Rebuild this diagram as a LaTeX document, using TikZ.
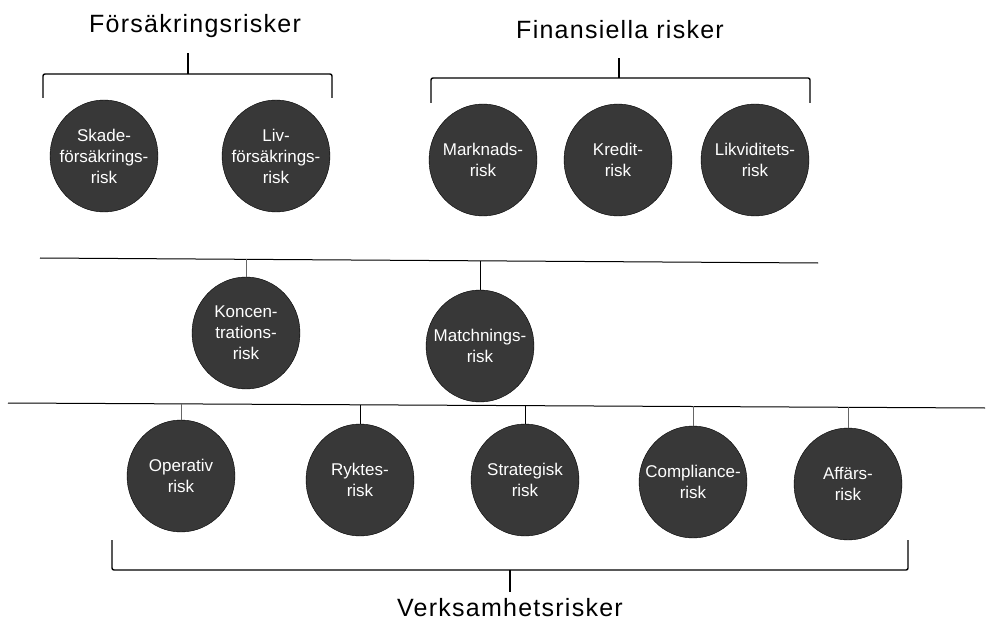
\documentclass[tikz,border=0pt]{standalone}
\usepackage{fontspec}
\setmainfont{Liberation Sans}
\usetikzlibrary{shapes.geometric}

\begin{document}
\begin{tikzpicture}
    [x=1pt,y=-1pt,
     risktext/.style={text=white,inner sep=0pt,align=center,
        font=\fontsize{17}{21}\selectfont},
     risk/.style={ellipse,draw=black,fill=black!78,
        minimum width=108pt,minimum height=112pt,inner sep=0pt,
        label={[risktext]center:#1}},
     title/.style={font=\fontsize{25}{28}\selectfont\addfontfeature{LetterSpace=5}},
     bracket/.style={line width=1.4pt,rounded corners=2pt},
     stub/.style={line width=1pt},
     faint/.style={line width=0.6pt,black!60}]
    \useasboundingbox (0,0) rectangle (987,628);

    %Titles
    \node[title] (fors) at (195,26){Försäkringsrisker};
    \node[title] (fin) at (620,30){Finansiella risker};
    \node[title] (verk) at (510,608){Verksamhetsrisker};

    %Nodes
    \node[risk={Skade-\\försäkrings-\\risk}] (skade) at (104,156){};
    \node[risk={Liv-\\försäkrings-\\risk}] (liv) at (276,156){};
    \node[risk={Marknads-\\risk}] (mark) at (483,160){};
    \node[risk={Kredit-\\risk}] (kred) at (618,160){};
    \node[risk={Likviditets-\\risk}] (likv) at (755,160){};

    \node[risk={Koncen-\\trations-\\risk}] (konc) at (246,333){};
    \node[risk={Matchnings-\\risk}] (matc) at (480,346){};

    \node[risk={Operativ\\risk}] (oper) at (181,476){};
    \node[risk={Ryktes-\\risk}] (rykt) at (360,480){};
    \node[risk={Strategisk\\risk}] (strat) at (525,480){};
    \node[risk={Compliance-\\risk}] (compl) at (693,482){};
    \node[risk={Affärs-\\risk}] (affa) at (848,484){};

    %Brackets
    \coordinate (b1l) at (43,98);
    \coordinate (b1m) at (188,74);
    \coordinate (b1r) at (332,98);
    \coordinate (b1t) at (188,53);
    \draw[bracket] (b1l) |- (b1m) -| (b1r);
    \draw[bracket] (b1m) -- (b1t);

    \coordinate (b2l) at (431,103);
    \coordinate (b2m) at (619,78);
    \coordinate (b2r) at (810,103);
    \coordinate (b2t) at (619,58);
    \draw[bracket] (b2l) |- (b2m) -| (b2r);
    \draw[bracket] (b2m) -- (b2t);

    \coordinate (b3l) at (112,540);
    \coordinate (b3m) at (510,570);
    \coordinate (b3r) at (908,540);
    \coordinate (b3t) at (510,592);
    \draw[bracket] (b3l) |- (b3m) -| (b3r);
    \draw[bracket] (b3m) -- (b3t);

    %Lines
    \coordinate (l1a) at (40,258);
    \coordinate (l1b) at (818,263);
    \draw[stub] (l1a) -- (l1b);
    \coordinate (l2a) at (8,403);
    \coordinate (l2b) at (985,408);
    \draw[stub] (l2a) -- (l2b);

    %Edges
    \coordinate (s1) at (246,259);
    \coordinate (s2) at (480,261);
    \draw[faint] (s1) -- (konc);
    \draw[stub] (s2) -- (matc);
    \coordinate (s3) at (181,404);
    \coordinate (s4) at (360,405);
    \coordinate (s5) at (525,405);
    \coordinate (s6) at (693,406);
    \coordinate (s7) at (848,407);
    \draw[faint] (s3) -- (oper);
    \draw[stub] (s4) -- (rykt);
    \draw[stub] (s5) -- (strat);
    \draw[faint] (s6) -- (compl);
    \draw[faint] (s7) -- (affa);
\end{tikzpicture}
\end{document}
